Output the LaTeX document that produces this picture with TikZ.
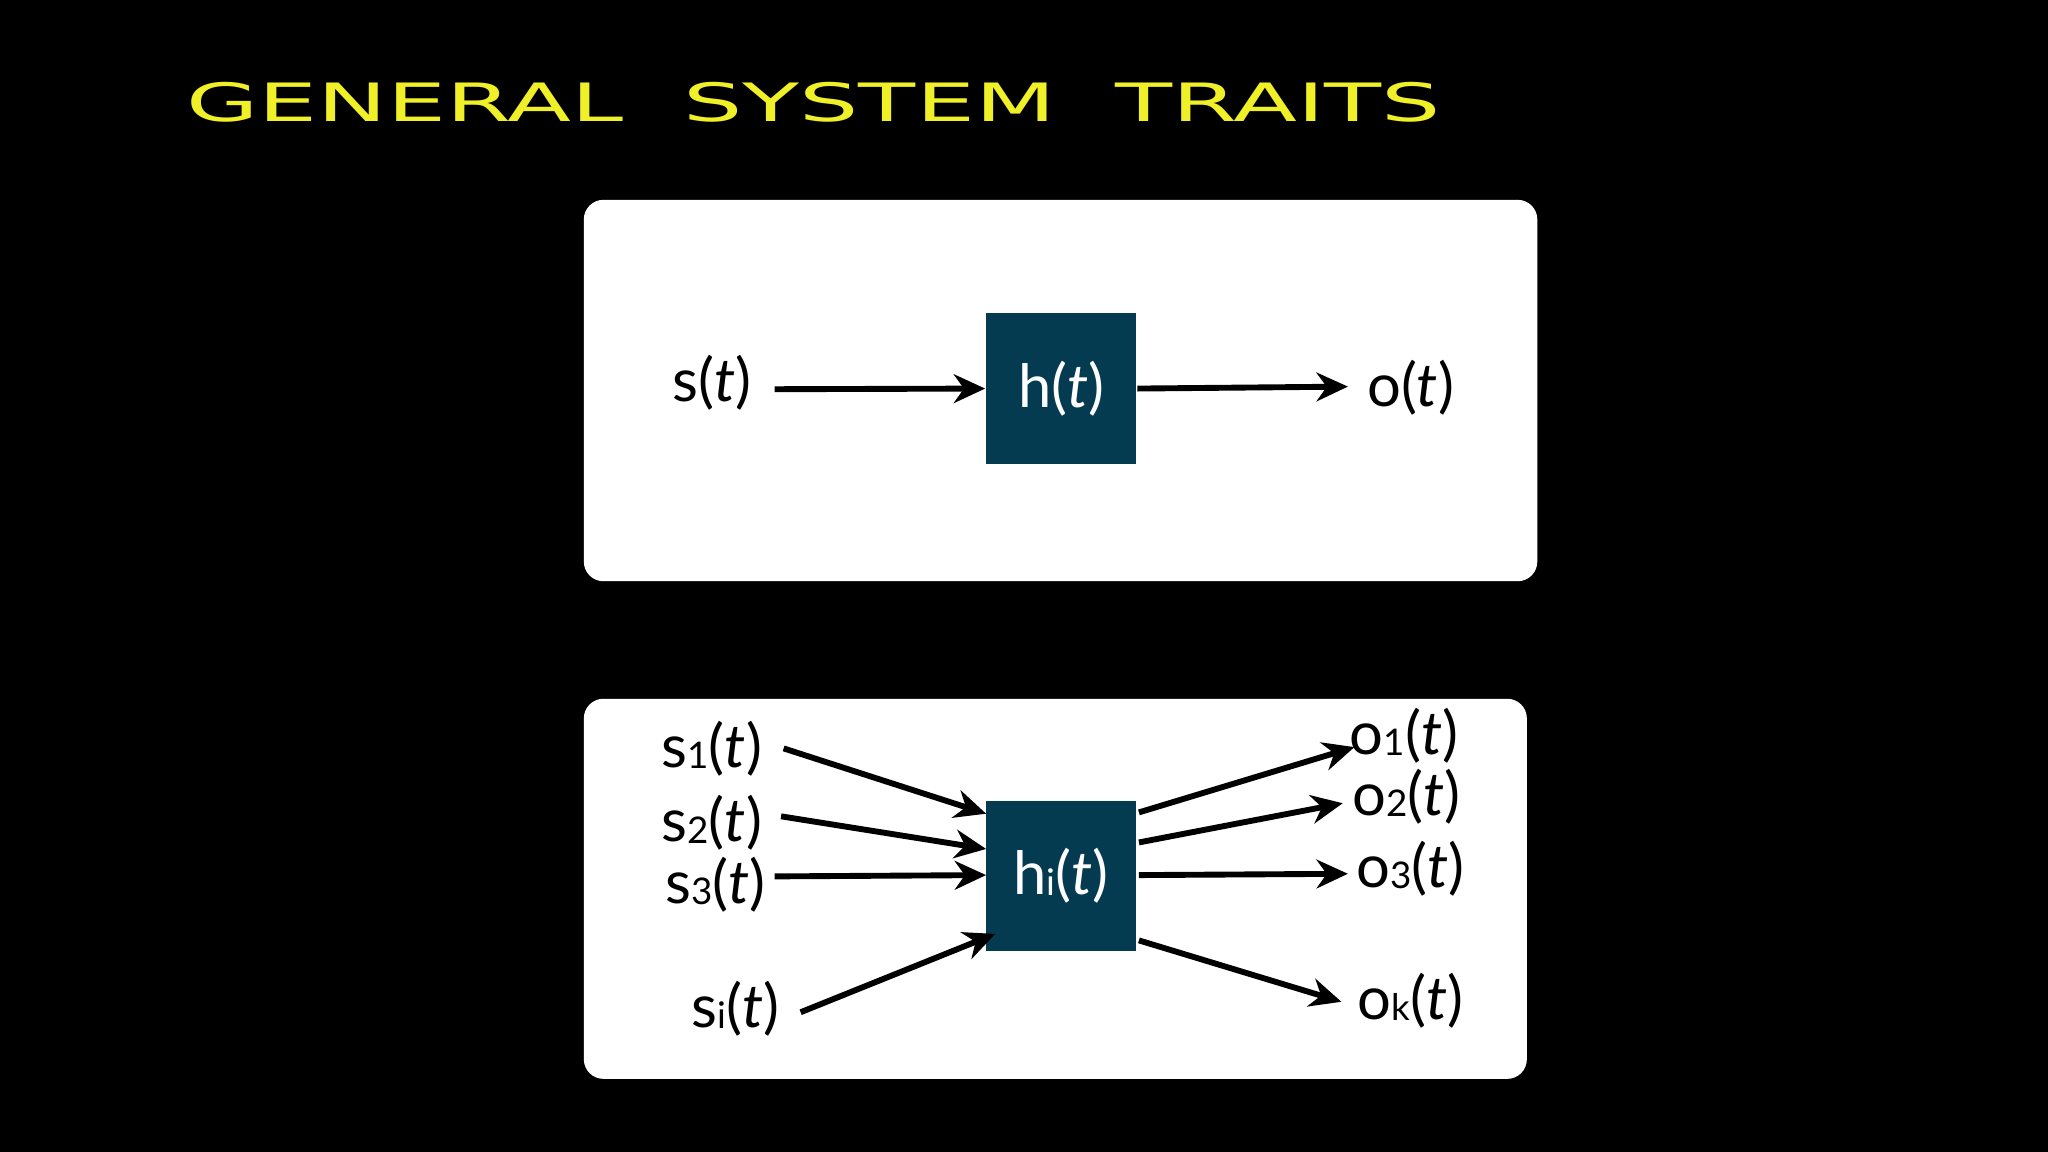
\documentclass[tikz,border=0pt]{standalone}
\usepackage{fontspec}
\setmainfont{Lato}
\newfontfamily\titlefont{DejaVu Sans}
\usetikzlibrary{arrows.meta}
\definecolor{hbox}{RGB}{5,59,80}
\definecolor{ttl}{RGB}{240,240,40}
\newcommand{\sbx}[1]{{\fontsize{8}{8}\selectfont\raisebox{-0.3pt}{#1}}}
\begin{document}
\begin{tikzpicture}[x=0.01cm,y=-0.01cm,
  panel/.style={fill=white,rounded corners=0.15cm},
  sys/.style={fill=hbox,minimum width=1.15cm,minimum height=1.15cm,inner sep=0,text=white,font=\fontsize{13}{15}\selectfont},
  lbl/.style={font=\fontsize{13}{15}\selectfont,inner sep=1pt},
  arr/.style={-{Stealth[length=0.24cm,width=0.22cm]},line width=0.045cm}]
\fill[black] (0,0) rectangle (1568,882);
\useasboundingbox (0,0) rectangle (1568,882);
\node[text=ttl,anchor=west,inner sep=0] (title) at (142,78) {\resizebox{9.6cm}{0.3cm}{\titlefont GENERAL\ \ SYSTEM\ \ TRAITS}};
\fill[panel] (447,153) rectangle (1177,445);
\fill[panel] (447,535) rectangle (1169,826);
\node[sys] (h) at (812.5,297.5) {h(\textit{t})};
\node[lbl] (s) at (545,293) {s(\textit{t})};
\node[lbl] (o) at (1080,297) {o(\textit{t})};
\coordinate (sa) at (593,298); \coordinate (ob) at (1032,296);
\draw[arr] (sa) -- (h.west);
\draw[arr] (h.east) -- (ob);
\node[sys] (hi) at (812.5,670.5) {h\sbx{i}(\textit{t})};
\node[lbl] (s1) at (545,573) {s\sbx{1}(\textit{t})};
\node[lbl] (s2) at (545,630) {s\sbx{2}(\textit{t})};
\node[lbl] (s3) at (548,677) {s\sbx{3}(\textit{t})};
\node[lbl] (si) at (563,772) {s\sbx{i}(\textit{t})};
\node[lbl] (o1) at (1075,563) {o\sbx{1}(\textit{t})};
\node[lbl] (o2) at (1077,610) {o\sbx{2}(\textit{t})};
\node[lbl] (o3) at (1080,665) {o\sbx{3}(\textit{t})};
\node[lbl] (ok) at (1080,766) {o\sbx{k}(\textit{t})};
\coordinate (a1) at (600,573); \coordinate (b1) at (755,623);
\coordinate (a2) at (598,625); \coordinate (b2) at (755,650);
\coordinate (a3) at (593,671); \coordinate (b3) at (755,670);
\coordinate (a4) at (613,775); \coordinate (b4) at (762,715);
\draw[arr] (a1) -- (b1); \draw[arr] (a2) -- (b2);
\draw[arr] (a3) -- (b3); \draw[arr] (a4) -- (b4);
\coordinate (c1) at (872,622); \coordinate (d1) at (1037,572);
\coordinate (c2) at (872,645); \coordinate (d2) at (1028,615);
\coordinate (c3) at (872,670); \coordinate (d3) at (1032,669);
\coordinate (c4) at (872,720); \coordinate (d4) at (1027,767);
\draw[arr] (c1) -- (d1); \draw[arr] (c2) -- (d2);
\draw[arr] (c3) -- (d3); \draw[arr] (c4) -- (d4);
\end{tikzpicture}
\end{document}
